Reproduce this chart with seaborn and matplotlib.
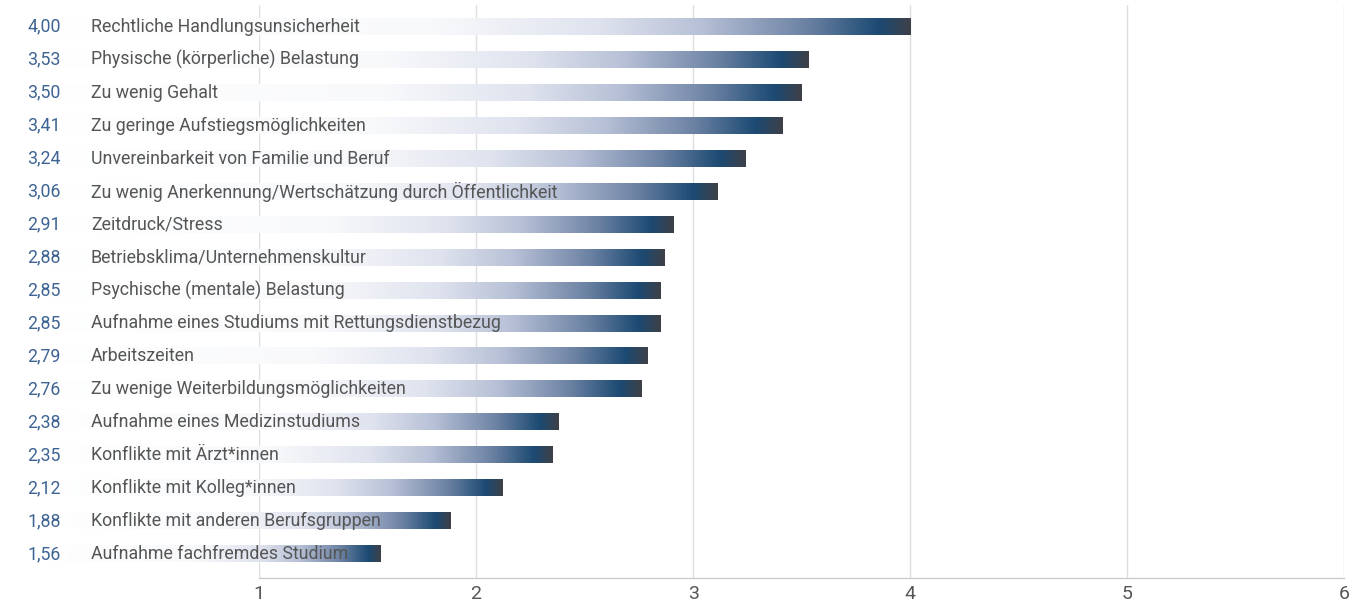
import numpy as np
import pandas as pd
import matplotlib
matplotlib.use('Agg')
import seaborn as sns
import matplotlib.pyplot as plt
from matplotlib.colors import LinearSegmentedColormap
from matplotlib.transforms import blended_transform_factory

# == Data == #
categories = [
    'Rechtliche Handlungsunsicherheit',
    'Physische (körperliche) Belastung',
    'Zu wenig Gehalt',
    'Zu geringe Aufstiegsmöglichkeiten',
    'Unvereinbarkeit von Familie und Beruf',
    'Zu wenig Anerkennung/Wertschätzung durch Öffentlichkeit',
    'Zeitdruck/Stress',
    'Betriebsklima/Unternehmenskultur',
    'Psychische (mentale) Belastung',
    'Aufnahme eines Studiums mit Rettungsdienstbezug',
    'Arbeitszeiten',
    'Zu wenige Weiterbildungsmöglichkeiten',
    'Aufnahme eines Medizinstudiums',
    'Konflikte mit Ärzt*innen',
    'Konflikte mit Kolleg*innen',
    'Konflikte mit anderen Berufsgruppen',
    'Aufnahme fachfremdes Studium',
]
# printed values
value_labels = ['4,00', '3,53', '3,50', '3,41', '3,24', '3,06', '2,91', '2,88',
                '2,85', '2,85', '2,79', '2,76', '2,38', '2,35', '2,12', '1,88',
                '1,56']
# bar lengths as drawn in the picture
bar_values = [4.00, 3.53, 3.50, 3.41, 3.24, 3.11, 2.91, 2.87, 2.85, 2.85,
              2.79, 2.76, 2.38, 2.35, 2.12, 1.88, 1.56]
xticks = [1, 2, 3, 4, 5, 6]

df = pd.DataFrame({'Kategorie': categories, 'Wert': bar_values})

sns.set_theme(style='whitegrid')
plt.rcParams['font.family'] = ['Roboto', 'DejaVu Sans']

fig = plt.figure(figsize=(13.66, 6.07), dpi=100)
ax = fig.add_axes([0.1896, 0.0478, 0.7945, 0.944])

sns.barplot(data=df, x='Wert', y='Kategorie', orient='h', ax=ax,
            width=0.5, color='white')

# -- gradient fill for every bar (white -> navy -> dark grey)
cmap = LinearSegmentedColormap.from_list('bar', [
    (0.00, '#ffffff'),
    (0.45, '#f8f9fb'),
    (0.64, '#dfe3ee'),
    (0.76, '#b7c0d6'),
    (0.88, '#6d83a4'),
    (0.965, '#1c4a73'),
    (1.00, '#3c4049'),
])
grad = np.linspace(0, 1, 512).reshape(1, -1)
for p in ax.patches:
    x0, y0 = p.get_x(), p.get_y()
    w, h = p.get_width(), p.get_height()
    p.set_visible(False)
    ax.imshow(grad, extent=[x0, x0 + w, y0 + h, y0], cmap=cmap,
              aspect='auto', clip_on=False, zorder=2,
              interpolation='bilinear')

ax.set_xlim(1, 6)
ax.set_ylim(16.73, -0.66)
ax.set_xticks(xticks)
ax.set_xticklabels([str(t) for t in xticks], fontsize=14, color='#555555')
ax.set_yticks([])
ax.set_xlabel('')
ax.set_ylabel('')
ax.tick_params(axis='x', length=0, pad=5)
ax.set_axisbelow(True)
ax.grid(axis='x', color='#dedede', linewidth=1)
ax.grid(axis='y', visible=False)
for s in ['top', 'right', 'left']:
    ax.spines[s].set_visible(False)
ax.spines['bottom'].set_color('#cccccc')
ax.spines['bottom'].set_linewidth(1)

# -- value and category labels on the left
trans = blended_transform_factory(fig.transFigure, ax.transData)
for i, (cat, lab) in enumerate(zip(categories, value_labels)):
    ax.text(0.0198, i, lab, transform=trans,
            ha='left', va='center', fontsize=12.8, color='#3e6494', zorder=3)
    ax.text(0.0666, i, cat, transform=trans, ha='left', va='center',
            fontsize=12.8, color='#555555', zorder=3)

plt.savefig('out.png', dpi=100)
